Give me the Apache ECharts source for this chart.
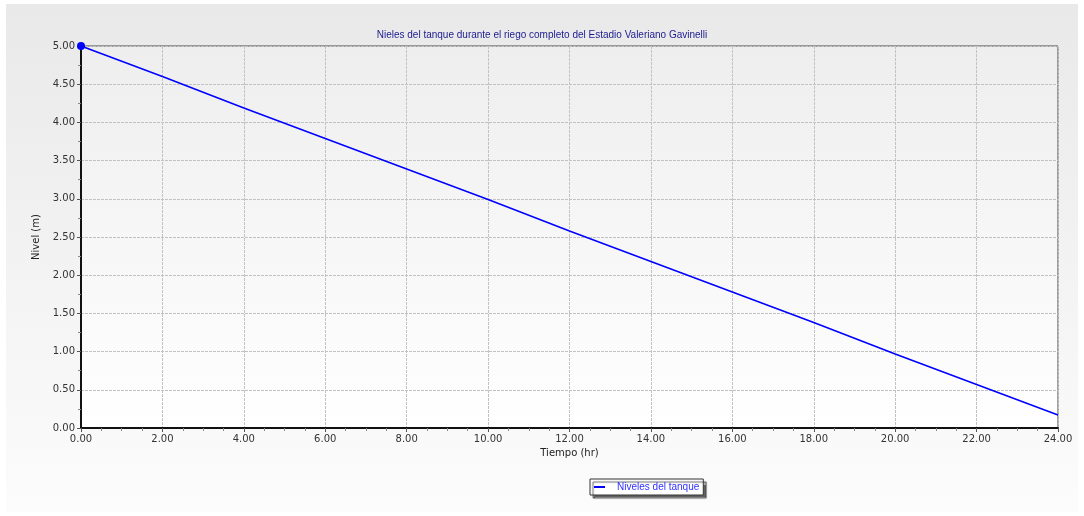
<!DOCTYPE html>
<html><head><meta charset="utf-8">
<script src="https://cdn.jsdelivr.net/npm/echarts@6/dist/echarts.min.js"></script>
<style>html,body{margin:0;padding:0;background:#fff}#c{width:1084px;height:516px}</style>
</head><body><div id="c"></div>
<script>
const hours = [0, 2, 4, 6, 8, 10, 12, 14, 16, 18, 20, 22, 24];
const levels = [5.00, 4.60, 4.19, 3.79, 3.39, 2.99, 2.58, 2.18, 1.78, 1.38, 0.97, 0.57, 0.17];
const seriesName = 'Niveles del tanque';
const titleText = 'Nieles del tanque durante el riego completo del Estadio Valeriano Gavinelli';
const xName = 'Tiempo (hr)';
const yName = 'Nivel (m)';

const chart = echarts.init(document.getElementById('c'));
const font = 'DejaVu Sans, Verdana, sans-serif';
const font2 = 'Liberation Sans, Arial, sans-serif';
chart.setOption({
  animation: false,
  backgroundColor: '#fff',
  graphic: [{
    type: 'rect', z: -10, silent: true,
    shape: {x: 6, y: 4, width: 1072, height: 508},
    style: {fill: new echarts.graphic.LinearGradient(0, 0, 0, 1, [
      {offset: 0, color: '#e9e9e9'}, {offset: 1, color: '#fcfcfc'}])}
  }],
  title: {
    text: titleText, left: 'center', top: 25,
    textStyle: {color: '#1b1b8f', fontSize: 10, fontWeight: 'normal', fontFamily: font2}
  },
  grid: {
    left: 81, right: 26, top: 46, bottom: 88, show: true,
    borderColor: '#444', borderWidth: 1,
    backgroundColor: new echarts.graphic.LinearGradient(0, 0, 0, 1, [
      {offset: 0, color: '#eeeeee'}, {offset: 1, color: '#ffffff'}])
  },
  legend: {
    data: [{name: seriesName}], top: 479, left: 590,
    itemWidth: 11, itemHeight: 2, itemGap: 5,
    backgroundColor: '#fff', borderColor: '#333', borderWidth: 1,
    padding: [2, 4, 2, 4],
    shadowColor: 'rgba(0,0,0,0.6)', shadowOffsetX: 3, shadowOffsetY: 3, shadowBlur: 1,
    textStyle: {color: '#3030ff', fontSize: 10, lineHeight: 12, fontFamily: font2, padding: [0, 0, 0, 7]},
    icon: 'rect'
  },
  xAxis: {
    type: 'value', min: 0, max: 24, interval: 2,
    name: xName, nameLocation: 'middle', nameGap: 17,
    nameTextStyle: {color: '#222', fontSize: 10, fontFamily: font},
    axisLine: {show: true, lineStyle: {color: '#111', width: 2}},
    axisTick: {show: true, length: 4, lineStyle: {color: '#555'}},
    minorTick: {show: true, splitNumber: 4, length: 3, lineStyle: {color: '#888'}},
    axisLabel: {formatter: v => v.toFixed(2), color: '#333', fontSize: 10, fontFamily: font, margin: 6},
    splitLine: {show: true, lineStyle: {color: '#c2c2c2', type: [3, 1], width: 1}}
  },
  yAxis: {
    type: 'value', min: 0, max: 5, interval: 0.5,
    name: yName, nameLocation: 'middle', nameGap: 36, nameRotate: 90,
    nameTextStyle: {color: '#222', fontSize: 10, fontFamily: font},
    axisLine: {show: true, lineStyle: {color: '#111', width: 2}},
    axisTick: {show: true, length: 4, lineStyle: {color: '#555'}},
    minorTick: {show: true, splitNumber: 2, length: 3, lineStyle: {color: '#888'}},
    axisLabel: {formatter: v => v.toFixed(2), color: '#333', fontSize: 10, fontFamily: font, margin: 6},
    splitLine: {show: true, lineStyle: {color: '#c2c2c2', type: [3, 1], width: 1}}
  },
  series: [{
    name: seriesName, type: 'line',
    data: hours.map((h, i) => [h, levels[i]]),
    color: '#0000ff',
    lineStyle: {color: '#0000ff', width: 1.6},
    showSymbol: true, symbol: 'circle',
    symbolSize: (v, p) => p.dataIndex === 0 ? 8 : 0,
    itemStyle: {color: '#0000ff'}
  }]
});
</script></body></html>
